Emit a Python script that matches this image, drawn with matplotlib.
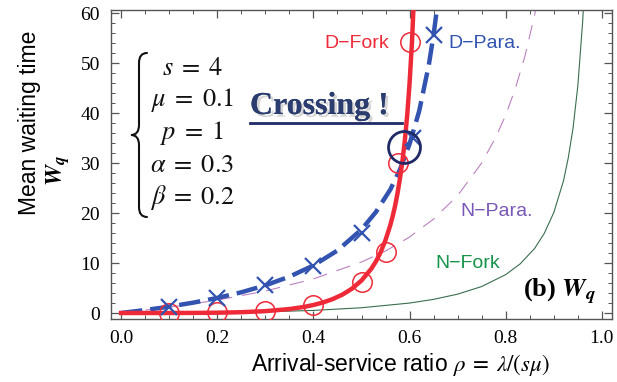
import numpy as np
import matplotlib
matplotlib.use("Agg")
import matplotlib.pyplot as plt
from matplotlib.ticker import MultipleLocator
from matplotlib.path import Path
from matplotlib.patches import PathPatch
import matplotlib.patheffects as pe

# DATA

# D-Fork (red solid) curve
dfork_x = [0.0, 0.05, 0.1, 0.15, 0.2, 0.25, 0.3, 0.35, 0.38, 0.4, 0.42, 0.44,
           0.46, 0.48, 0.5, 0.52, 0.53, 0.54, 0.55, 0.56, 0.565, 0.57, 0.575,
           0.58, 0.585, 0.59, 0.595, 0.6, 0.605, 0.61]
dfork_y = [0.0, 0.0, 0.0, 0.02, 0.06, 0.16, 0.37, 0.79, 1.21, 1.6, 2.11, 2.78,
           3.66, 4.85, 6.5, 8.8, 10.3, 12.2, 14.6, 17.6, 19.4, 21.5, 24.0,
           26.9, 30.3, 34.4, 39.5, 46.0, 54.2, 65.3]

# D-Para. (blue dashed) curve
dpara_x = [0.0, 0.05, 0.1, 0.15, 0.2, 0.25, 0.3, 0.35, 0.4, 0.45, 0.5, 0.53,
           0.56, 0.58, 0.6, 0.62, 0.64, 0.65, 0.66]
dpara_y = [0.0, 0.59, 1.27, 2.07, 3.01, 4.14, 5.53, 7.27, 9.5, 12.5, 16.7, 20.2,
           24.7, 28.7, 33.8, 40.4, 49.6, 55.7, 63.1]

# N-Para. (purple thin dashed) curve
npara_x = [0.0, 0.1, 0.2, 0.3, 0.4, 0.5, 0.55, 0.6, 0.65, 0.7, 0.75, 0.78,
           0.8, 0.82, 0.84, 0.86, 0.87]
npara_y = [0.0, 1.14, 2.57, 4.39, 6.82, 10.2, 12.4, 15.2, 18.8, 23.5, 30.0, 35.3,
           39.6, 44.9, 51.4, 59.6, 64.6]

# N-Fork (green thin) curve
nfork_x = [0.0, 0.1, 0.2, 0.3, 0.4, 0.5, 0.6, 0.65, 0.7, 0.75, 0.8, 0.83,
           0.86, 0.88, 0.9, 0.92, 0.93, 0.94, 0.95, 0.96, 0.965]
nfork_y = [0.0, 0.015, 0.08, 0.23, 0.52, 1.05, 1.99, 2.73, 3.77, 5.3, 7.68, 9.83,
           12.9, 15.9, 20.1, 26.4, 31.0, 37.0, 45.5, 58.3, 67.4]

# simulation markers
dfork_sim_x = [0.1, 0.2, 0.3, 0.4, 0.5, 0.55, 0.576, 0.6]
dfork_sim_y = [0.0, 0.2, 0.5, 1.7, 6.3, 12.2, 30.0, 54.2]
dpara_sim_x = [0.1, 0.2, 0.3, 0.4, 0.5, 0.607, 0.65]
dpara_sim_y = [1.3, 3.1, 5.6, 9.4, 16.1, 35.0, 55.6]

crossing = (0.588, 33.2)

params = [r"$s\;=\;4$", r"$\mu\;=\;0.1$", r"$p\;=\;1$", r"$\alpha\;=\;0.3$", r"$\beta\;=\;0.2$"]

xticks = [0.0, 0.2, 0.4, 0.6, 0.8, 1.0]
xtick_labels = ["0.0", "0.2", "0.4", "0.6", "0.8", "1.0"]
yticks = [0, 10, 20, 30, 40, 50, 60]
ytick_labels = ["0", "10", "20", "30", "40", "50", "60"]

# COLORS

red = "#ee2a38"
blue = "#3253b0"
purple = "#bb80c0"
green = "#3a6e50"
navy = "#1f2a66"

plt.rcParams["mathtext.fontset"] = "stix"

fig = plt.figure(figsize=(6.17, 3.82), dpi=100)
ax = fig.add_axes([111 / 617, 1 - 319 / 382, 501 / 617, 309 / 382])

# CURVES

ax.plot(nfork_x, nfork_y, color=green, lw=0.8, zorder=2)
ax.plot(npara_x, npara_y, color=purple, lw=0.8, dashes=(13, 9), zorder=2)
ax.plot(dpara_x, dpara_y, color=blue, lw=3.2, dashes=(4.8, 1.8), zorder=3)
ax.plot(dfork_x, dfork_y, color=red, lw=3.2, zorder=4)

ax.plot(dfork_sim_x, dfork_sim_y, "o", ms=14, mfc="none", mec=red, mew=1.1, zorder=5)
ax.plot(dpara_sim_x, dpara_sim_y, "x", ms=11, mec=blue, mew=1.6, zorder=5)

ax.plot([crossing[0]], [crossing[1]], "o", ms=23, mfc="none", mec=navy, mew=2.0, zorder=6)

# AXES

ax.set_xlim(-0.021, 1.021)
ax.set_ylim(-1.2, 60.6)

ax.xaxis.set_minor_locator(MultipleLocator(0.05))
ax.yaxis.set_minor_locator(MultipleLocator(2))

ax.tick_params(which="both", direction="in", top=True, right=True, color="#555555")
ax.tick_params(which="major", length=6, width=0.9, pad=8)
ax.tick_params(which="minor", length=3, width=0.7)

ax.set_xticks(xticks)
ax.set_xticklabels(xtick_labels, family="Liberation Serif", fontsize=14)
ax.set_yticks(yticks)
ax.set_yticklabels(ytick_labels, family="Liberation Serif", fontsize=14)

for s in ax.spines.values():
    s.set_color("#555555")
    s.set_linewidth(1.0)

# LABELS

fig.text(400 / 617, 1 - 365 / 382, r"Arrival-service ratio $\rho\;=\;\lambda/(s\mu)$",
         ha="center", va="center", fontsize=16.5, family="Liberation Sans")
fig.text(30 / 617, 1 - 123 / 382, "Mean waiting time", rotation=90,
         ha="center", va="center", fontsize=16.5, family="Liberation Sans")
fig.text(58 / 617, 1 - 170 / 382, r"$\mathbfit{W_q}$", rotation=90,
         ha="center", va="center", fontsize=17)

ax.text(0.491, 53.8, "D\u2212Fork", color=red, fontsize=14, ha="center", va="center",
        family="Liberation Sans")
ax.text(0.757, 54.0, "D\u2212Para.", color=blue, fontsize=14, ha="center", va="center",
        family="Liberation Sans")
ax.text(0.782, 20.2, "N\u2212Para.", color="#7a58b8", fontsize=14, ha="center", va="center",
        family="Liberation Sans")
ax.text(0.721, 10.0, "N\u2212Fork", color="#17934a", fontsize=14, ha="center", va="center",
        family="Liberation Sans")

ax.text(0.913, 4.2, r"(b) $\mathbfit{W_q}$", fontsize=19, ha="center", va="center",
        family="Liberation Serif", weight="bold")

# parameter block
for i, p in enumerate(params):
    ax.text(0.148, 49.0 - 6.5 * i, p, fontsize=19, ha="center", va="center", color="#111111")

# thin curly brace, figure pixel coords (origin bottom-left)
x_end, x_mid, x_tip = 147, 139, 131
y_top, y_bot = 382 - 53, 382 - 217
y_c = (y_top + y_bot) / 2
r = 10
verts = [(x_end, y_top), (x_mid, y_top), (x_mid, y_top - r),
         (x_mid, y_c + r),
         (x_mid, y_c), (x_tip, y_c),
         (x_mid, y_c), (x_mid, y_c - r),
         (x_mid, y_bot + r),
         (x_mid, y_bot), (x_end, y_bot)]
codes = [Path.MOVETO, Path.CURVE3, Path.CURVE3,
         Path.LINETO,
         Path.CURVE3, Path.CURVE3,
         Path.CURVE3, Path.CURVE3,
         Path.LINETO,
         Path.CURVE3, Path.CURVE3]
fig.patches.append(PathPatch(Path(verts, codes), transform=None, facecolor="none",
                             edgecolor="#111111", lw=1.5, capstyle="round"))

# crossing annotation
ax.text(0.268, 41.3, "Crossing !", fontsize=23, family="Liberation Serif", weight="bold",
        color="#2b3c6e", ha="left", va="center",
        path_effects=[pe.withSimplePatchShadow(offset=(2, -2), shadow_rgbFace="#999999", alpha=0.4),
                      pe.Normal()])
ax.plot([0.268, 0.584], [38.0, 38.0], color=navy, lw=2.0, zorder=6)

fig.savefig("out.png", dpi=100)
